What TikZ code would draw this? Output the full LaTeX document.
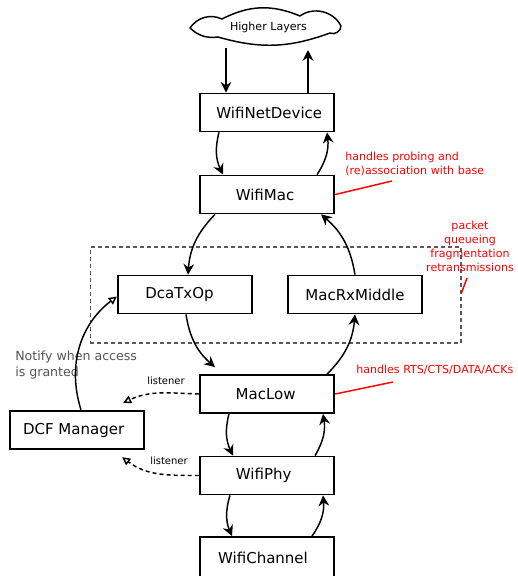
\documentclass[tikz,border=0pt]{standalone}
\usepackage{fontspec}
\setmainfont{DejaVu Sans}
\usetikzlibrary{arrows.meta,calc}
\begin{document}
\begin{tikzpicture}[x=0.75pt,y=-0.75pt,
  box/.style={draw, line width=1.3pt, minimum width=101pt, minimum height=28.5pt, inner sep=0pt, font=\fontsize{11.25}{13}\selectfont},
  arr/.style={line width=1.1pt, -{Stealth[length=8pt,width=8pt]}},
  lis/.style={line width=1.1pt, dash pattern=on 3pt off 2.3pt, -{Triangle[open,length=6pt,width=6pt]}},
  opentip/.style={line width=1.1pt, -{Triangle[open,length=6pt,width=6pt]}},
  redt/.style={text=red, font=\fontsize{8.3}{10.5}\selectfont, inner sep=0pt},
  redline/.style={red, line width=1.1pt},
  cloudline/.style={line width=1.1pt, line join=round},
  ]
\useasboundingbox (0,0) rectangle (518,576);

% group frame
\node[draw=black!65, line width=1pt, dash pattern=on 3pt off 2.25pt, minimum width=278pt, minimum height=72pt, inner sep=0pt] (grp) at (275.5,295) {};

% cloud
\draw[cloudline] (190,28) to[bend left=40] (222,19) to[bend left=25] (300,16)
  to[bend left=50] (341,26) to[bend left=60] (330,33) to[bend left=18] (218,37)
  to[bend left=25] (190,28) -- cycle;
\node[font=\fontsize{8.3}{10}\selectfont, inner sep=0pt] (hl) at (268.5,27.3) {Higher Layers};

% nodes
\node[box] (wnd) at (267,112.5) {\hspace*{3.5pt}WifiNetDevice};
\node[box] (mac) at (267,194.5) {WifiMac\hspace*{3pt}};
\node[box] (dca) at (185,294.5) {DcaTxOp\hspace*{8.25pt}};
\node[box] (rx) at (355,294.5) {MacRxMiddle};
\node[box] (low) at (267,394) {MacLow\hspace*{2pt}};
\node[box] (phy) at (267,475.5) {WifiPhy\hspace*{5pt}};
\node[box, minimum height=30.75pt] (ch) at (267,557.5) {WifiChannel\hspace*{6pt}};
\node[box, minimum height=29pt] (dcf) at (77,430) {DCF Manager\hspace*{5pt}};

% labels
\node[redt, align=left, anchor=west] (n1) at (345,164) {handles probing and\\(re)association with base};
\node[redt, anchor=west] (n2) at (356,370) {handles RTS/CTS/DATA/ACKs};
\node[redt, align=center] (n3) at (470,246) {packet\\queueing\\fragmentation\\retransmissions};
\node[text=black!67, font=\fontsize{9.45}{12}\selectfont, align=left, anchor=west, inner sep=0pt] (n4) at (15,365) {Notify when access\\is granted};
\node[font=\fontsize{7.5}{9}\selectfont, inner sep=0pt] (l1) at (166,381) {listener};
\node[font=\fontsize{7.5}{9}\selectfont, inner sep=0pt] (l2) at (169,461) {listener};

% connectors
\coordinate (c1) at (226,48);
\coordinate (c2) at (308,50);
\draw[arr] (c1) -- (c1 |- wnd.north);
\draw[arr] (c2 |- wnd.north) -- (c2);

\draw[arr] ([xshift=-36pt]wnd.south) to[bend right=20] ([xshift=-33pt]mac.north);
\draw[arr] ([xshift=37.5pt]mac.north) to[bend right=20] ([xshift=45pt]wnd.south);
\draw[arr] ([xshift=-39pt]mac.south) to[bend right=20] ([xshift=2.25pt]dca.north);
\draw[arr] (rx.north) to[bend right=20] ([xshift=40.5pt]mac.south);
\coordinate (c3) at ([shift={(-52,-7)}]low.north);
\draw[arr] ([xshift=0.75pt]dca.south) to[bend right=20] (c3);
\draw[arr] ([xshift=45pt]low.north) to[bend right=20] (rx.south);
\draw[arr] ([xshift=-28.5pt]low.south) to[bend right=20] ([xshift=-25.5pt]phy.north);
\draw[arr] ([xshift=36pt]phy.north) to[bend right=20] ([xshift=42pt]low.south);
\draw[arr] ([xshift=-27.75pt]phy.south) to[bend right=20] ([xshift=-26.25pt]ch.north);
\draw[arr] ([xshift=33.75pt]ch.north) to[bend right=20] ([xshift=42pt]phy.south);

\coordinate (t1) at ([shift={(-22,-7)}]dcf.north east);
\coordinate (t2) at ([shift={(-23,7)}]dcf.south east);
\draw[lis] (low.west) to[out=178,in=25] (t1);
\draw[lis] (phy.west) to[out=180,in=-37] (t2);
\draw[opentip] ([xshift=3pt]dcf.north) to[bend left=35] ([yshift=-1.5pt]dca.west);

\coordinate (r1) at (392,181);
\coordinate (r2) at (393,382);
\coordinate (r3) at (467,278);
\draw[redline] (mac.east) -- (r1);
\draw[redline] (low.east) -- (r2);
\draw[redline] (r3) -- ([yshift=1.5pt]grp.east);
\end{tikzpicture}
\end{document}
